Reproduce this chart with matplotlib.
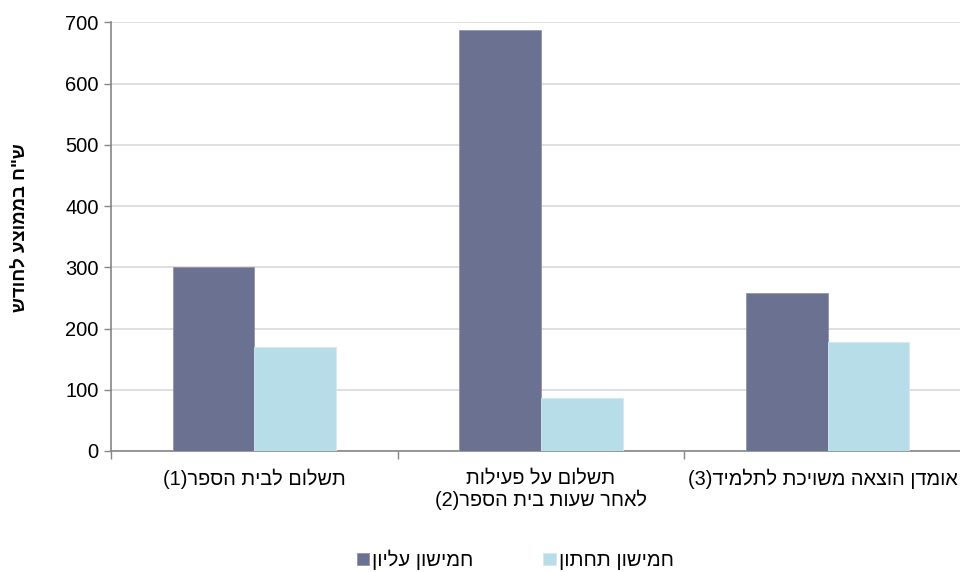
import numpy as np
import matplotlib.pyplot as plt
import matplotlib.transforms as mtransforms

# data (logical Hebrew order; converted to visual order for drawing)
categories = ['תשלום לבית הספר(1)',
              'תשלום על פעילות\nלאחר שעות בית הספר(2)',
              'אומדן הוצאה משויכת לתלמיד(3)']
series_names = ['חמישון עליון', 'חמישון תחתון']
top_quintile = [300, 687, 258]
bottom_quintile = [170, 86, 178]
y_ticks = [0, 100, 200, 300, 400, 500, 600, 700]
y_title = 'ש"ח בממוצע לחודש'

colors = ['#6B7191', '#B7DDE8']


def visual(s):
    # crude RTL -> LTR visual order, per line, with mirrored parentheses
    swap = {'(': ')', ')': '('}
    out = []
    for line in s.split('\n'):
        out.append(''.join(swap.get(c, c) for c in reversed(line)))
    return '\n'.join(out)


plt.rcParams['font.family'] = ['Liberation Sans', 'DejaVu Sans']

fig = plt.figure(figsize=(9.6, 5.72), dpi=100)
W, H = 960, 572
left, right, top, bottom = 111, 971, 22.3, 451
ax = fig.add_axes([left / W, (H - bottom) / H, (right - left) / W, (bottom - top) / H])

x = np.arange(len(categories))
bw = 0.285
ax.bar(x - bw / 2, top_quintile, bw, color=colors[0], edgecolor='#8F94AD',
       linewidth=0.6, label=visual(series_names[0]), zorder=3)
ax.bar(x + bw / 2, bottom_quintile, bw, color=colors[1], edgecolor='#D2EAF1',
       linewidth=0.6, label=visual(series_names[1]), zorder=3)

ax.set_xlim(-0.5, len(categories) - 0.5)
ax.set_ylim(0, 700)
ax.set_yticks(y_ticks)
ax.tick_params(axis='y', labelsize=14.5, length=5, width=1, color='#868686',
               direction='out', pad=4)

# category boundaries as major ticks, labels on minor ticks
ax.set_xticks(np.arange(len(categories) + 1) - 0.5)
ax.set_xticklabels([])
ax.tick_params(axis='x', which='major', length=6, width=1, color='#868686')
ax.set_xticks(x, minor=True)
labels = ax.set_xticklabels([visual(c) for c in categories], minor=True,
                            fontsize=14.3, linespacing=1.1)
ax.tick_params(axis='x', which='minor', length=0, pad=13)
# last label sits against the right edge; nudge it so it stays whole
last = labels[-1]
last.set_transform(last.get_transform() + mtransforms.ScaledTranslation(-5 / 100, 0, fig.dpi_scale_trans))

ax.yaxis.grid(True, color='#D9D9D9', linewidth=1.2, zorder=0)
ax.set_axisbelow(True)
for s in ['top', 'right']:
    ax.spines[s].set_visible(False)
for s in ['left', 'bottom']:
    ax.spines[s].set_color('#868686')
    ax.spines[s].set_linewidth(1.2)

fig.text(21 / W, 1 - 228 / H, visual(y_title), rotation=90, fontsize=13.3,
         fontweight='bold', ha='center', va='center')

fig.legend(loc='center', bbox_to_anchor=(515 / W, 1 - 560 / H), ncol=2,
           frameon=False, fontsize=14.5, handlelength=0.6, handleheight=0.6,
           handletextpad=0.15, columnspacing=3.5)

fig.savefig('out.png', dpi=100)
